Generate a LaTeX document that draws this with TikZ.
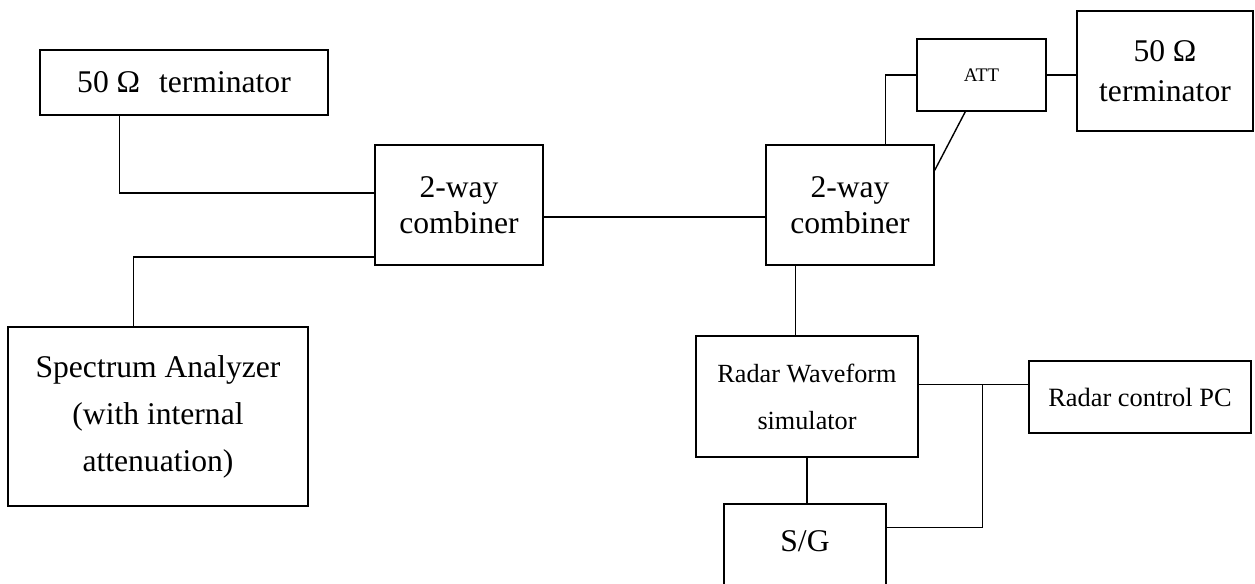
\documentclass[tikz,border=0pt]{standalone}
\usepackage{fontspec}
\setmainfont{Liberation Serif}
\begin{document}
\begin{tikzpicture}[x=0.5pt,y=-0.5pt,
  box/.style={draw, line width=0.7pt, inner sep=0pt, align=center},
  big/.style={font=\fontsize{15.8pt}{18pt}\selectfont},
  wire/.style={line width=0.7pt}]
\useasboundingbox (0,0) rectangle (1255,584);
\clip (0,0) rectangle (1255,584);

\node[box, big, minimum width=144pt, minimum height=32.5pt] (A) at (184,82.5) {50 Ω\hspace{0.6em}terminator};
\node[box, big, minimum width=84pt, minimum height=60pt] (C1) at (459,205) {2-way\\combiner};
\node[box, big, minimum width=84pt, minimum height=60pt] (C2) at (850,205) {2-way\\combiner};
\node[box, font=\fontsize{9.6pt}{11pt}\selectfont, minimum width=64.5pt, minimum height=36pt] (ATT) at (981.5,75) {ATT};
\node[box, font=\fontsize{15.8pt}{20pt}\selectfont, minimum width=88pt, minimum height=60pt] (T2) at (1165,71) {50 Ω\\terminator};
\node[box, font=\fontsize{15.8pt}{23.5pt}\selectfont, minimum width=150pt, minimum height=89.5pt] (SA) at (158,416.5) {Spectrum Analyzer\\(with internal\\attenuation)};
\node[box, font=\fontsize{13.1pt}{23.5pt}\selectfont, minimum width=111pt, minimum height=60.5pt] (RW) at (807,396.5) {Radar Waveform\\simulator};
\node[box, font=\fontsize{13.2pt}{16pt}\selectfont, minimum width=111pt, minimum height=36pt] (RC) at (1140,397) {Radar control PC};
\node[box, big, text height=11pt, text depth=13.6pt, minimum width=81pt, minimum height=50pt] (SG) at (805,554) {S/G};

% connectors
\draw[wire] ([xshift=40pt]A.south west) |- ([yshift=6pt]C1.west);
\draw[wire] ([yshift=-26pt]C1.west) -| ([xshift=63pt]SA.north west);
\draw[wire] ([yshift=-6pt]C1.east) -- ([yshift=-6pt]C2.west);
\draw[wire] ([xshift=60pt]C2.north west) |- (ATT.west);
\draw[wire] (ATT.east) -- (ATT.east -| T2.west);
\draw[wire] ([xshift=24.5pt]ATT.south west) -- ([yshift=-13pt]C2.north east);
\coordinate (c2b) at ([xshift=15pt]C2.south west);
\draw[wire] (c2b) -- (c2b |- RW.north);
\draw[wire] (RW.south) -- (RW.south |- SG.north);
\coordinate (rwr) at ([yshift=6pt]RW.east);
\draw[wire] (rwr) -- (rwr -| RC.west);
\coordinate (jn) at ([xshift=32pt]rwr);
\draw[wire] (jn) |- ([yshift=-12pt]SG.north east);
\end{tikzpicture}
\end{document}
